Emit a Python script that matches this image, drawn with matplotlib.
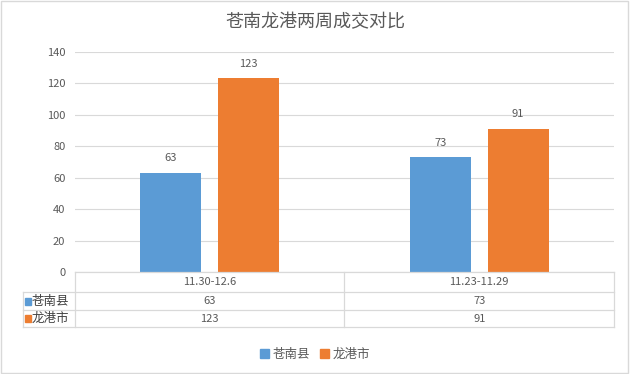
import matplotlib.pyplot as plt
from matplotlib.patches import Patch, Rectangle

plt.rcParams['font.family'] = ['Noto Sans CJK SC', 'DejaVu Sans']

# data
title = '苍南龙港两周成交对比'
periods = ['11.30-12.6', '11.23-11.29']
series_names = ['苍南县', '龙港市']
cangnan = [63, 73]
longgang = [123, 91]
colors = ['#5B9BD5', '#ED7D31']
text_color = '#595959'
line_color = '#D9D9D9'

W, H = 630, 374
fig = plt.figure(figsize=(W / 100, H / 100), dpi=100)

def fx(px):
    return px / W

def fy(py):
    return 1 - py / H

# plot area in pixel coords
left, right, top, bottom = 75, 614, 51.7, 272.3
ax = fig.add_axes([fx(left), fy(bottom), fx(right - left), (bottom - top) / H])

x = list(range(len(periods)))
bw = 0.226
offs = [-0.144, 0.144]
for vals, off, c in zip([cangnan, longgang], offs, colors):
    bars = ax.bar([i + off for i in x], vals, width=bw, color=c, zorder=3)
    for b, v in zip(bars, vals):
        ax.annotate(str(v), (b.get_x() + b.get_width() / 2, v), xytext=(0, 7),
                    textcoords='offset points', ha='center', va='bottom',
                    fontsize=8, color=text_color)

ax.set_xlim(-0.5, len(periods) - 0.5)
ax.set_ylim(0, 140)
ax.set_yticks(range(0, 141, 20))
ax.yaxis.grid(True, color=line_color, lw=0.8, zorder=0)
ax.set_xticks([])
for s in ax.spines.values():
    s.set_visible(False)
ax.tick_params(axis='y', length=0, pad=7, labelsize=8, labelcolor=text_color)

# title
fig.text(0.5, fy(22), title, ha='center', va='center', fontsize=13, color=text_color)

# data table drawn below the axes
row_edges = [272.3, 292.3, 310.3, 327.0]
label_left = 23.3
col_mid = 344.3

def hline(y, x0, x1):
    fig.add_artist(plt.Line2D([fx(x0), fx(x1)], [fy(y), fy(y)], color=line_color, lw=0.9))

def vline(xp, y0, y1):
    fig.add_artist(plt.Line2D([fx(xp), fx(xp)], [fy(y0), fy(y1)], color=line_color, lw=0.9))

hline(row_edges[0], left, right)
for y in row_edges[1:]:
    hline(y, label_left, right)
vline(label_left, row_edges[1], row_edges[3])
for xp in [left, col_mid, right]:
    vline(xp, row_edges[0], row_edges[3])

xt = ax.get_xaxis_transform()
for i, p in enumerate(periods):
    ymid = (row_edges[0] + row_edges[1]) / 2
    fig.text(fx(left + (i + 0.5) * (right - left) / len(periods)), fy(ymid), p,
             ha='center', va='center', fontsize=8, color=text_color)

for r, (name, vals, c) in enumerate(zip(series_names, [cangnan, longgang], colors)):
    ymid = (row_edges[r + 1] + row_edges[r + 2]) / 2
    fig.add_artist(Rectangle((fx(25), fy(ymid + 3.2)), fx(6.4), 6.4 / H, color=c,
                             transform=fig.transFigure))
    fig.text(fx(32), fy(ymid), name, ha='left', va='center', fontsize=9, color='#404040')
    for i, v in enumerate(vals):
        fig.text(fx(left + (i + 0.5) * (right - left) / len(periods)), fy(ymid), str(v),
                 ha='center', va='center', fontsize=8, color=text_color)

# legend
handles = [Patch(color=c) for c in colors]
fig.legend(handles, series_names, loc='center', bbox_to_anchor=(0.5, fy(354)), ncol=2,
           frameon=False, fontsize=9, handlelength=0.7, handleheight=0.7,
           handletextpad=0.3, columnspacing=0.8, labelcolor=text_color)

# chart border
fig.add_artist(Rectangle((fx(1), fy(373)), fx(627), 372 / H, fill=False,
                         edgecolor=line_color, lw=1, transform=fig.transFigure))

fig.savefig('out.png', dpi=100)
